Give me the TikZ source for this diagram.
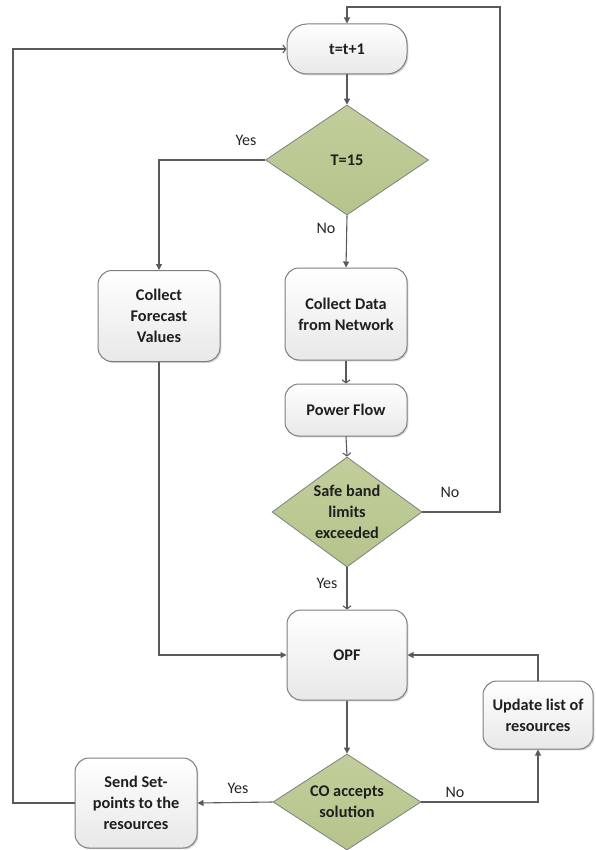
\documentclass[tikz,border=0pt]{standalone}
\usepackage{fontspec}
\setmainfont{Carlito}
\usetikzlibrary{shapes.geometric,arrows.meta,shadows}
\definecolor{linec}{HTML}{5A5A5A}
\definecolor{boxc}{HTML}{7F7F7F}
\definecolor{diafill}{HTML}{B5C48C}
\definecolor{diatop}{HTML}{C1CE9B}
\begin{document}
\begin{tikzpicture}[x=1pt,y=-1pt,
  txt/.style={font=\fontsize{16.3}{21}\selectfont\bfseries, text=black!88},
  box/.style={txt, draw=boxc, line width=1pt, rounded corners=14pt, top color=white, bottom color=black!9,
     align=center, inner sep=0pt,
     drop shadow={opacity=0.35, shadow xshift=1.4pt, shadow yshift=-1.4pt}},
  dia/.style={txt, diamond, draw=boxc, line width=0.8pt, top color=diatop, bottom color=diafill,
     align=center, inner sep=-2pt, shape aspect=1.36},
  flow/.style={draw=linec, line width=1.1pt, -{Triangle[length=6pt,width=6pt]}},
  flowo/.style={draw=linec, line width=1.1pt, -{Straight Barb[length=3pt,width=8pt]}},
  lab/.style={font=\fontsize{16}{18}\selectfont, text=black!85}
]
\fill[white] (0,0) rectangle (595,850);
\useasboundingbox (0,0) rectangle (595,850);

\node[box, minimum width=120pt, minimum height=50pt, rounded corners=20pt] (tt) at (347,49) {t=t+1};
\node[dia, minimum width=163pt, minimum height=110pt] (T15) at (347,160) {T=15};
\node[box, minimum width=122pt, minimum height=91pt] (cf) at (159,316) {Collect\\Forecast\\Values};
\node[box, minimum width=122pt, minimum height=92pt] (cd) at (346,314) {Collect Data\\from Network};
\node[box, minimum width=122pt, minimum height=52pt] (pf) at (346,410) {Power Flow};
\node[dia, minimum width=150pt, minimum height=110pt] (sb) at (347,512) {Safe band\\limits\\exceeded};
\node[box, minimum width=120pt, minimum height=90pt] (opf) at (347,655) {OPF};
\node[box, minimum width=110pt, minimum height=68pt] (upd) at (538,715) {Update list of\\resources};
\node[dia, minimum width=148pt, minimum height=96pt] (co) at (347,802) {CO accepts\\solution};
\node[box, minimum width=122pt, minimum height=90pt] (send) at (136,803) {Send Set-\\points to the\\resources};

\coordinate (rr) at (500,7);
\coordinate (ll) at (13,803);

\draw[flow] (sb.east) -| (rr) -| (tt.north);
\draw[flowo] (send.west) -- (ll) |- (tt.west);
\draw[flow] (tt.south) -- (T15.north);
\draw[flow] (T15.west) -| (cf.north);
\draw[flow] (T15.south) -- (cd.north);
\draw[flowo] (cd.south) -- (pf.north);
\draw[flowo] (pf.south) -- (sb.north);
\draw[flowo] (sb.south) -- (opf.north);
\draw[flow] (cf.south) |- (opf.west);
\draw[flow] (upd.north) |- (opf.east);
\draw[flow] (opf.south) -- (co.north);
\draw[flow] (co.west) -- (send.east);
\draw[flow] (co.east) -| (upd.south);

\node[lab] (l1) at (246,140) {Yes};
\node[lab] (l2) at (326,228) {No};
\node[lab] (l3) at (450,492) {No};
\node[lab] (l4) at (327,583) {Yes};
\node[lab] (l5) at (238,788) {Yes};
\node[lab] (l6) at (455,792) {No};
\end{tikzpicture}
\end{document}
